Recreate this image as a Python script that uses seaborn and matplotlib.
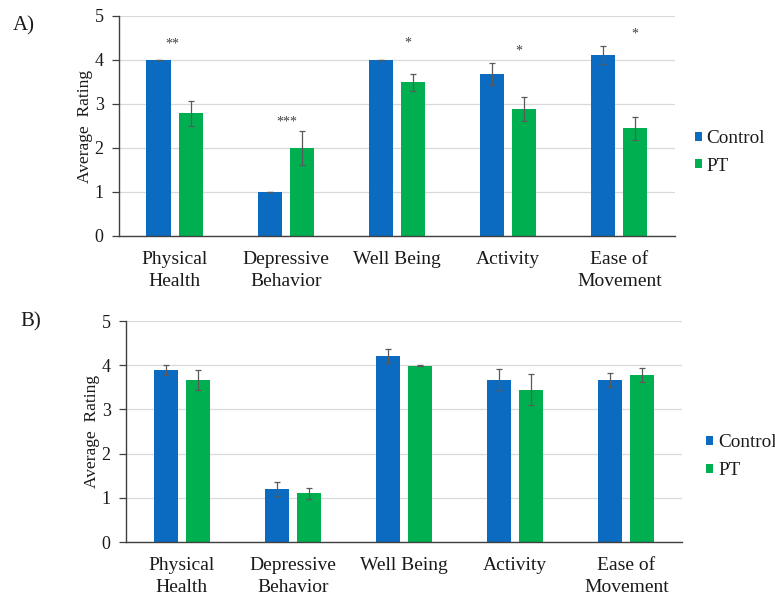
import numpy as np
import pandas as pd
import matplotlib
matplotlib.use("Agg")
import matplotlib.pyplot as plt
import seaborn as sns

categories = ["Physical\nHealth", "Depressive\nBehavior", "Well Being", "Activity", "Ease of\nMovement"]
groups = ["Control", "PT"]

# Panel A: mean ratings and standard errors
a_control = [4.00, 1.00, 4.00, 3.68, 4.12]
a_control_err = [0.00, 0.00, 0.00, 0.25, 0.20]
a_pt = [2.79, 2.00, 3.49, 2.89, 2.45]
a_pt_err = [0.28, 0.38, 0.19, 0.27, 0.26]
a_stars = ["**", "***", "*", "*", "*"]
a_star_y = [4.36, 2.58, 4.38, 4.20, 4.60]

# Panel B: mean ratings and standard errors
b_control = [3.89, 1.20, 4.21, 3.67, 3.67]
b_control_err = [0.12, 0.16, 0.15, 0.24, 0.16]
b_pt = [3.67, 1.10, 3.99, 3.45, 3.77]
b_pt_err = [0.23, 0.12, 0.01, 0.34, 0.16]

palette = {"Control": "#0B6BC1", "PT": "#00AF50"}
star_dx = [-0.02, 0.01, 0.095, 0.10, 0.135]

sns.set_theme(style="white")
plt.rcParams["font.family"] = ["Liberation Serif", "DejaVu Serif"]

fig = plt.figure(figsize=(7.75, 5.97), dpi=100)
ax_a = fig.add_axes([0.1535, 0.6047, 0.7174, 0.3685])
ax_b = fig.add_axes([0.1626, 0.0921, 0.7174, 0.3702])


def draw_panel(ax, control, control_err, pt, pt_err, label, label_xy, legend_xy):
    df = pd.DataFrame({
        "category": categories * 2,
        "group": ["Control"] * len(categories) + ["PT"] * len(categories),
        "rating": control + pt,
    })
    sns.barplot(data=df, x="category", y="rating", hue="group", order=categories,
                hue_order=groups, palette=palette, errorbar=None, width=0.577,
                gap=0.25, saturation=1, ax=ax, linewidth=0, zorder=2)
    # error bars at the centre of each drawn bar, one container per group
    for container, errs in zip(ax.containers, [control_err, pt_err]):
        xs = [p.get_x() + p.get_width() / 2 for p in container.patches]
        hs = [p.get_height() for p in container.patches]
        ax.errorbar(xs, hs, yerr=errs, fmt="none", ecolor="#5a5a5a", elinewidth=0.9,
                    capsize=2.4, capthick=0.9, zorder=3)

    ax.set_ylim(0, 5)
    ax.set_xlim(-0.5, 4.5)
    ax.set_yticks(range(0, 6))
    ax.yaxis.grid(True, color="#d9d9d9", linewidth=0.9, zorder=0)
    ax.set_axisbelow(True)
    for s in ["top", "right"]:
        ax.spines[s].set_visible(False)
    for s in ["left", "bottom"]:
        ax.spines[s].set_color("#404040")
        ax.spines[s].set_linewidth(1.0)
    ax.tick_params(axis="y", which="both", left=True, length=5, width=0.9,
                   color="#404040", labelsize=13, pad=6, labelcolor="#1a1a1a")
    ax.tick_params(axis="x", bottom=False, labelsize=14, pad=5, labelcolor="#1a1a1a")
    for t in ax.get_xticklabels():
        t.set_linespacing(1.35)
    ax.set_xlabel("")
    ax.set_ylabel("Average  Rating", fontsize=12.5, color="#1a1a1a", labelpad=1)

    leg = ax.legend(loc="center left", bbox_to_anchor=legend_xy, frameon=False,
                    fontsize=13.8, handlelength=0.36, handleheight=0.36,
                    handletextpad=0.25, labelspacing=0.55, borderaxespad=0)
    for t in leg.get_texts():
        t.set_color("#1a1a1a")

    fig.text(label_xy[0], label_xy[1], label,
             fontsize=15, color="#1a1a1a", ha="left", va="center")


draw_panel(ax_a, a_control, a_control_err, a_pt, a_pt_err, "A)",
           (0.0168, 0.9564), (1.022, 0.38))
draw_panel(ax_b, b_control, b_control_err, b_pt, b_pt_err, "B)",
           (0.0258, 0.4606), (1.03, 0.386))

for i, (s, y) in enumerate(zip(a_stars, a_star_y)):
    ax_a.text(i + star_dx[i], y, s, ha="center", va="center", fontsize=10,
              color="#404040")

fig.savefig("out.png", dpi=100)
